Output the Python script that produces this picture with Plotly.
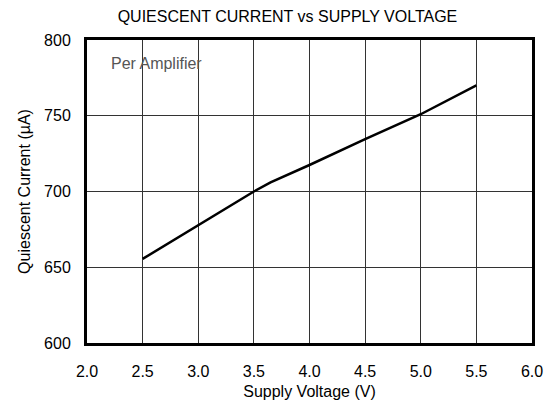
import plotly.graph_objects as go

voltage = [2.5, 3.0, 3.5, 3.65, 4.0, 4.5, 5.0, 5.5]
current = [655.5, 677.5, 700, 706, 717.5, 734.5, 751, 770]

x_ticks = [2.0, 2.5, 3.0, 3.5, 4.0, 4.5, 5.0, 5.5, 6.0]
x_tick_labels = ["2.0", "2.5", "3.0", "3.5", "4.0", "4.5", "5.0", "5.5", "6.0"]
y_ticks = [600, 650, 700, 750, 800]

font = "Liberation Sans, Arial, sans-serif"

fig = go.Figure()
fig.add_trace(go.Scatter(x=voltage, y=current, mode="lines",
                         line=dict(color="black", width=2.5), showlegend=False))

fig.update_layout(
    width=541, height=392,
    margin=dict(l=78.5, r=17, t=32, b=57),
    paper_bgcolor="white", plot_bgcolor="white",
    font=dict(family=font, size=16, color="black"),
    title=dict(text="QUIESCENT CURRENT vs SUPPLY VOLTAGE", x=0.5166, xanchor="center",
               y=0.978, yanchor="middle", font=dict(size=16, family=font)),
    xaxis=dict(range=[2.0, 6.0], tickvals=x_ticks, ticktext=x_tick_labels,
               showgrid=True, gridcolor="#333", gridwidth=1,
               showline=True, linecolor="black", linewidth=3, mirror=True,
               ticks="", zeroline=False, ticklabelstandoff=12, automargin=False,
               title=dict(text="Supply Voltage (V)", standoff=7, font=dict(size=16)),
               tickfont=dict(size=16)),
    yaxis=dict(range=[600, 800], tickvals=y_ticks,
               showgrid=True, gridcolor="#333", gridwidth=1,
               showline=True, linecolor="black", linewidth=3, mirror=True,
               ticks="", zeroline=False, ticklabelstandoff=10, automargin=False,
               title=dict(text="Quiescent Current (µA)", standoff=10, font=dict(size=16)),
               tickfont=dict(size=16)),
    annotations=[dict(text="Per Amplifier", x=2.2, y=784.5, xref="x", yref="y",
                      xanchor="left", yanchor="middle", showarrow=False,
                      font=dict(size=16, color="#555", family=font))],
)

fig.write_html("out.html")
